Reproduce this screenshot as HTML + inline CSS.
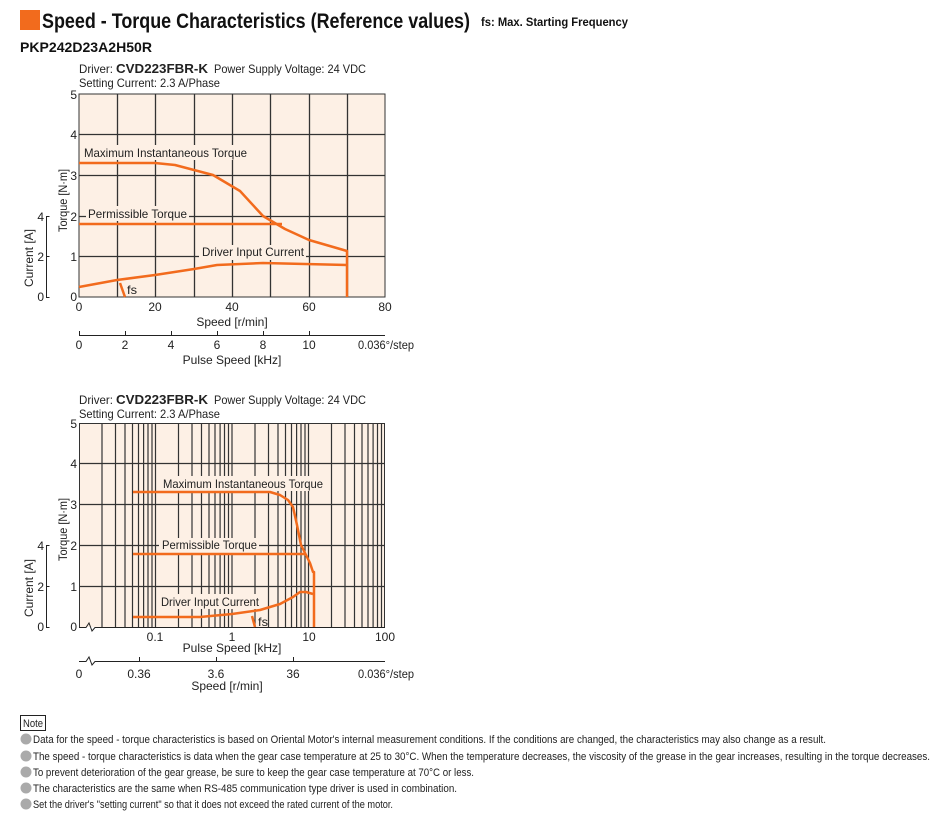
<!DOCTYPE html>
<html><head><meta charset="utf-8"><style>
body{margin:0;background:#fff;}
svg{display:block;font-family:"Liberation Sans Narrow","Liberation Sans",sans-serif;}
</style></head><body>
<svg width="950" height="820" viewBox="0 0 950 820" xmlns="http://www.w3.org/2000/svg">
<rect x="20" y="10" width="20" height="20" fill="#f26b1d"/>
<text x="42" y="28" font-size="21" font-weight="bold" textLength="428" lengthAdjust="spacingAndGlyphs" fill="#111">Speed - Torque Characteristics (Reference values)</text>
<text x="481" y="26" font-size="12" font-weight="bold" textLength="147" lengthAdjust="spacingAndGlyphs" fill="#111">fs: Max. Starting Frequency</text>
<text x="20" y="52" font-size="14" font-weight="bold" font-family="Liberation Sans,sans-serif" textLength="132" lengthAdjust="spacingAndGlyphs" fill="#111">PKP242D23A2H50R</text>

<!-- CHART 1 -->
<g font-size="12" fill="#222">
<text x="79" y="73" textLength="34" lengthAdjust="spacingAndGlyphs">Driver:</text>
<text x="116" y="73" font-weight="bold" font-family="Liberation Sans,sans-serif" font-size="13" textLength="92" lengthAdjust="spacingAndGlyphs">CVD223FBR-K</text>
<text x="214" y="73" textLength="152" lengthAdjust="spacingAndGlyphs">Power Supply Voltage: 24 VDC</text>
<text x="79" y="87" textLength="141" lengthAdjust="spacingAndGlyphs">Setting Current: 2.3 A/Phase</text>
</g>
<rect x="79" y="94" width="306" height="203" fill="#fdf0e5"/>
<g stroke="#333" stroke-width="1.3">
<path d="M79 134.5H385M79 175.5H385M79 216.5H385M79 256.5H385"/>
<path d="M117.5 94V297M155.5 94V297M194.5 94V297M232.5 94V297M270.5 94V297M309.5 94V297M347.5 94V297"/>
</g>
<rect x="79" y="94" width="306" height="203" fill="none" stroke="#333"/>
<g fill="#fdf0e5">
<rect x="82" y="145" width="167" height="15"/>
<rect x="86" y="206" width="103" height="15"/>
<rect x="199" y="245" width="107" height="15"/>
</g>
<g font-size="12" fill="#222">
<text x="84" y="157" textLength="163" lengthAdjust="spacingAndGlyphs">Maximum Instantaneous Torque</text>
<text x="88" y="218" textLength="99" lengthAdjust="spacingAndGlyphs">Permissible Torque</text>
<text x="202" y="256" textLength="102" lengthAdjust="spacingAndGlyphs">Driver Input Current</text>
<text x="127" y="294" textLength="10" lengthAdjust="spacingAndGlyphs">fs</text>
</g>
<g fill="none" stroke="#f26b1d" stroke-width="2.5" stroke-linejoin="round">
<path d="M79 163L155 163L175 165L213 175L240 191L263 216L285 229L309 240L347 251L347 297"/>
<path d="M79 224H282"/>
<path d="M79 287L117 280L155 275L194 269L217 265L263 263L347 265"/>
<path d="M120 283L125 297"/>
</g>
<g font-size="12" fill="#222" text-anchor="end">
<text x="77" y="99">5</text><text x="77" y="139">4</text><text x="77" y="180">3</text><text x="77" y="221">2</text><text x="77" y="261">1</text><text x="77" y="301">0</text>
<text x="44" y="221">4</text><text x="44" y="261">2</text><text x="44" y="301">0</text>
</g>
<path d="M49.5 216.5H46.5V297.5H49.5M46.5 256.5H49.5" fill="none" stroke="#222"/>
<text transform="translate(67,232) rotate(-90)" font-size="12" fill="#222" textLength="63" lengthAdjust="spacingAndGlyphs">Torque [N·m]</text>
<text transform="translate(33,287) rotate(-90)" font-size="12" fill="#222" textLength="58" lengthAdjust="spacingAndGlyphs">Current [A]</text>
<g font-size="12" fill="#222" text-anchor="middle">
<text x="79" y="311">0</text><text x="155" y="311">20</text><text x="232" y="311">40</text><text x="309" y="311">60</text><text x="385" y="311">80</text>
<text x="232" y="326">Speed [r/min]</text>
<text x="79" y="349">0</text><text x="125" y="349">2</text><text x="171" y="349">4</text><text x="217" y="349">6</text><text x="263" y="349">8</text><text x="309" y="349">10</text>
<text x="232" y="364">Pulse Speed [kHz]</text>
</g>
<text x="358" y="349" font-size="12" fill="#222" textLength="56" lengthAdjust="spacingAndGlyphs">0.036°/step</text>
<path d="M79 335.5H385M79.5 335V331M125.5 335V331M171.5 335V331M217.5 335V331M263.5 335V331M309.5 335V331" stroke="#222" fill="none"/>

<!-- CHART 2 -->
<g font-size="12" fill="#222">
<text x="79" y="404" textLength="34" lengthAdjust="spacingAndGlyphs">Driver:</text>
<text x="116" y="404" font-weight="bold" font-family="Liberation Sans,sans-serif" font-size="13" textLength="92" lengthAdjust="spacingAndGlyphs">CVD223FBR-K</text>
<text x="214" y="404" textLength="152" lengthAdjust="spacingAndGlyphs">Power Supply Voltage: 24 VDC</text>
<text x="79" y="418" textLength="141" lengthAdjust="spacingAndGlyphs">Setting Current: 2.3 A/Phase</text>
</g>
<rect x="79" y="423" width="306" height="204" fill="#fdf0e5"/>
<g stroke="#333" stroke-width="1.2">
<path d="M79 463.5H385M79 504.5H385M79 545.5H385M79 586.5H385"/>
<path d="M102 423V627M115.5 423V627M125 423V627M132.5 423V627M138.5 423V627M143.6 423V627M148 423V627M152 423V627M155.5 423V627M178.5 423V627M192 423V627M201.5 423V627M209 423V627M215 423V627M220.1 423V627M224.5 423V627M228.5 423V627M232 423V627M255 423V627M268.5 423V627M278 423V627M285.5 423V627M291.5 423V627M296.6 423V627M301 423V627M305 423V627M308.5 423V627M331.5 423V627M345 423V627M354.5 423V627M362 423V627M368 423V627M373.1 423V627M377.5 423V627M381.5 423V627"/>
</g>
<path d="M79.5 627V423.5H384.5V627" fill="none" stroke="#333"/>
<path d="M79 627.5H86L89 623L92 631L95 627.5H385" fill="none" stroke="#222"/>
<g fill="#fdf0e5">
<rect x="161" y="476" width="164" height="15"/>
<rect x="159" y="538" width="100" height="15"/>
<rect x="158" y="594" width="104" height="15"/>
</g>
<g font-size="12" fill="#222">
<text x="163" y="488" textLength="160" lengthAdjust="spacingAndGlyphs">Maximum Instantaneous Torque</text>
<text x="162" y="549" textLength="95" lengthAdjust="spacingAndGlyphs">Permissible Torque</text>
<text x="161" y="606" textLength="98" lengthAdjust="spacingAndGlyphs">Driver Input Current</text>
<text x="258" y="626" textLength="10" lengthAdjust="spacingAndGlyphs">fs</text>
</g>
<g fill="none" stroke="#f26b1d" stroke-width="2.5" stroke-linejoin="round">
<path d="M133 492H270L280 495L288 500L293 507L297 525L301 545L306 555L310 563L313 572L314 572L314 627"/>
<path d="M133 554H306"/>
<path d="M133 617L200 617L232 614L260 610L280 604L293 597L300 592L306 592L313 594"/>
<path d="M252 616L255 627"/>
</g>
<g font-size="12" fill="#222" text-anchor="end">
<text x="77" y="428">5</text><text x="77" y="468">4</text><text x="77" y="509">3</text><text x="77" y="550">2</text><text x="77" y="591">1</text><text x="77" y="631">0</text>
<text x="44" y="550">4</text><text x="44" y="591">2</text><text x="44" y="631">0</text>
</g>
<path d="M49.5 545.5H46.5V627.5H49.5M46.5 586.5H49.5" fill="none" stroke="#222"/>
<text transform="translate(67,561) rotate(-90)" font-size="12" fill="#222" textLength="63" lengthAdjust="spacingAndGlyphs">Torque [N·m]</text>
<text transform="translate(33,617) rotate(-90)" font-size="12" fill="#222" textLength="58" lengthAdjust="spacingAndGlyphs">Current [A]</text>
<g font-size="12" fill="#222" text-anchor="middle">
<text x="155" y="641">0.1</text><text x="232" y="641">1</text><text x="309" y="641">10</text><text x="385" y="641">100</text>
<text x="232" y="652">Pulse Speed [kHz]</text>
<text x="79" y="678">0</text><text x="139" y="678">0.36</text><text x="216" y="678">3.6</text><text x="293" y="678">36</text>
<text x="227" y="690">Speed [r/min]</text>
</g>
<text x="358" y="678" font-size="12" fill="#222" textLength="56" lengthAdjust="spacingAndGlyphs">0.036°/step</text>
<path d="M79 661.5H86L89 657L92 665L95 661.5H385M139.5 661V657M216.5 661V657M293.5 661V657" fill="none" stroke="#222"/>

<!-- NOTES -->
<rect x="20.5" y="715.5" width="25" height="15" fill="none" stroke="#222"/>
<text x="23" y="727" font-size="11" fill="#222" textLength="20" lengthAdjust="spacingAndGlyphs">Note</text>
<g fill="#aaa">
<circle cx="26" cy="739" r="5.5"/><circle cx="26" cy="756" r="5.5"/><circle cx="26" cy="772" r="5.5"/><circle cx="26" cy="788" r="5.5"/><circle cx="26" cy="804" r="5.5"/>
</g>
<g font-size="11" fill="#222">
<text x="33" y="743" textLength="793" lengthAdjust="spacingAndGlyphs">Data for the speed - torque characteristics is based on Oriental Motor's internal measurement conditions. If the conditions are changed, the characteristics may also change as a result.</text>
<text x="33" y="760" textLength="897" lengthAdjust="spacingAndGlyphs">The speed - torque characteristics is data when the gear case temperature at 25  to 30°C. When the temperature decreases, the viscosity of the grease in the gear increases, resulting in the torque decreases.</text>
<text x="33" y="776" textLength="441" lengthAdjust="spacingAndGlyphs">To prevent deterioration of the gear grease, be sure to keep the gear case temperature at 70°C or less.</text>
<text x="33" y="792" textLength="424" lengthAdjust="spacingAndGlyphs">The characteristics are the same when RS-485 communication type driver is used in combination.</text>
<text x="33" y="808" textLength="360" lengthAdjust="spacingAndGlyphs">Set the driver's "setting current" so that it does not exceed the rated current of the motor.</text>
</g>
</svg>
</body></html>
